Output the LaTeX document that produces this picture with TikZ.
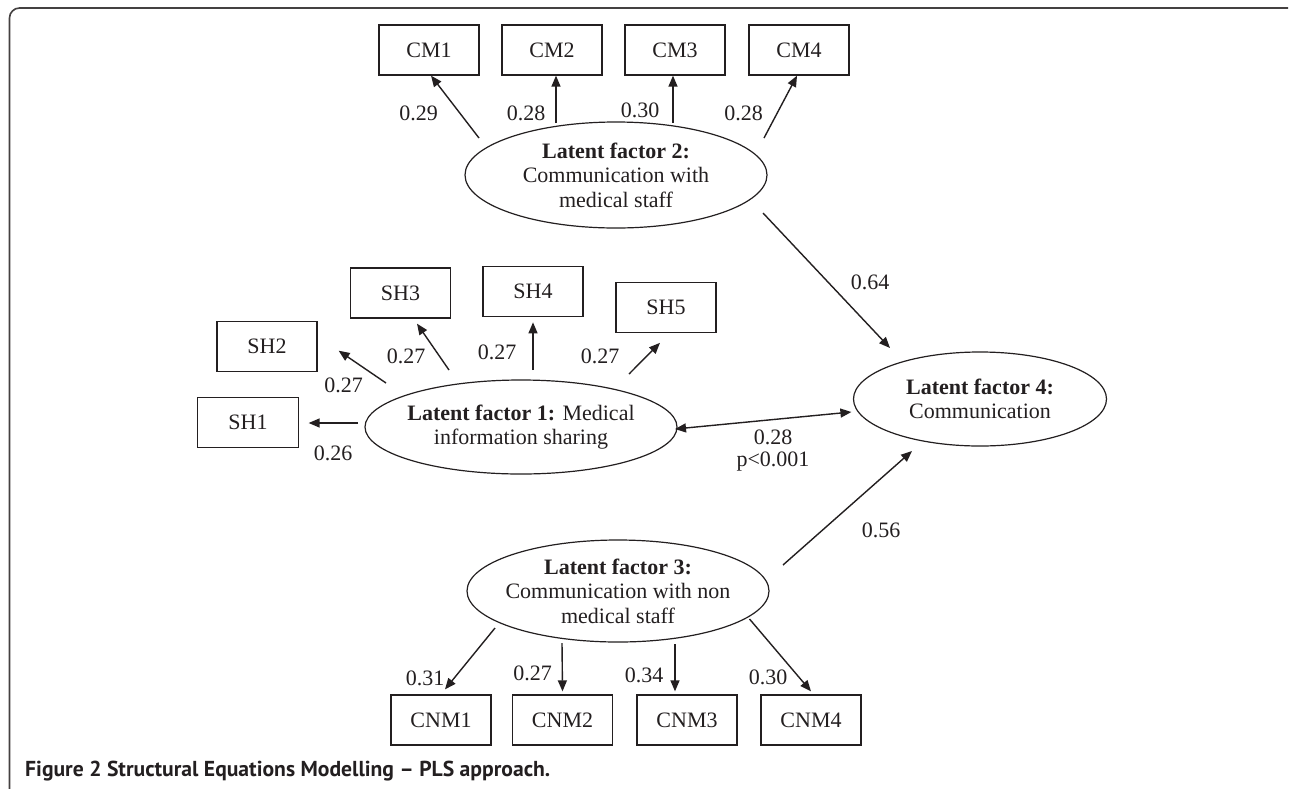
\documentclass[tikz,border=0pt]{standalone}
\usepackage{graphicx}
\usepackage{fontspec}
\setmainfont{Liberation Serif}
\newfontfamily\capfont{PT Sans}
\usetikzlibrary{shapes.geometric,arrows.meta,calc}
\definecolor{ink}{HTML}{231F20}
\begin{document}
\begin{tikzpicture}[x=1pt,y=-1pt,
  every node/.style={text=ink, font=\fontsize{22}{24.5}\selectfont},
  item/.style={draw=ink, line width=1.3pt, minimum width=100pt, minimum height=50pt, inner sep=0pt},
  factor/.style={draw=ink, line width=1.2pt, ellipse, inner xsep=-30pt, inner ysep=0pt, align=center},
  coef/.style={inner sep=0pt, align=center},
  arr/.style={draw=ink, line width=1.4pt, -{Triangle[length=11pt,width=9pt]}},
  darr/.style={draw=ink, line width=1.4pt, {Triangle[length=11pt,width=9pt]}-{Triangle[length=11pt,width=9pt]}},
]
\fill[white] (0,0) rectangle (1290,788);
\useasboundingbox (0,0) rectangle (1290,788);

% figure frame
\draw[draw=ink!85, line width=1.6pt, rounded corners=10pt] (9.5,790) -- (9.5,8) -- (1288,8);

% indicators of factor 2
\node[item] (cm1) at (429,50) {CM1};
\node[item] (cm2) at (552,50) {CM2};
\node[item] (cm3) at (675,50) {CM3};
\node[item] (cm4) at (799,50) {CM4};

% indicators of factor 1
\node[item, minimum width=101pt] (sh1) at (248,422.5) {SH1};
\node[item] (sh2) at (267,346.7) {SH2};
\node[item] (sh3) at (400.5,293) {SH3};
\node[item] (sh4) at (533,291.7) {SH4};
\node[item] (sh5) at (666,307.7) {SH5};

% indicators of factor 3
\node[item] (cnm1) at (441,720) {CNM1};
\node[item] (cnm2) at (562.5,720) {CNM2};
\node[item] (cnm3) at (687,720) {CNM3};
\node[item] (cnm4) at (811,720) {CNM4};

% latent factors
\node[factor, minimum width=302pt, minimum height=106pt] (lf2) at (616,175)
  {\textbf{Latent factor 2:}\\Communication with\\medical staff};
\node[factor, minimum width=312pt, minimum height=94pt] (lf1) at (521,427)
  {\textbf{Latent factor 1:} Medical\\information sharing};
\node[factor, minimum width=302pt, minimum height=102pt] (lf3) at (618,591)
  {\textbf{Latent factor 3:}\\Communication with non\\medical staff};
\node[factor, minimum width=253pt, minimum height=94pt] (lf4) at (980,399)
  {\textbf{Latent factor 4:}\\Communication};

% loadings of factor 2
\draw[arr] ($(lf2)+(-137,-37)$) -- ($(cm1.south)+(2,0)$);
\draw[arr] ($(lf2)+(-60,-52)$) -- ($(cm2.south)+(4,0)$);
\draw[arr] ($(lf2)+(57,-52)$) -- ($(cm3.south)+(-2,0)$);
\draw[arr] ($(lf2)+(148,-37)$) -- ($(cm4.south)+(-2,0)$);
\node[coef] (w21) at (418.6,113) {0.29};
\node[coef] (w22) at (526,113) {0.28};
\node[coef] (w23) at (640,110) {0.30};
\node[coef] (w24) at (743.6,113) {0.28};

% loadings of factor 1
\draw[arr] ($(lf1)+(-163,-4)$) -- ($(sh1.east)+(9.5,0.5)$);
\draw[arr] ($(lf1)+(-135,-44)$) -- ($(sh2.east)+(21,4)$);
\draw[arr] ($(lf1)+(-72,-57)$) -- ($(sh3.south)+(16.5,5)$);
\draw[arr] ($(lf1)+(12,-57)$) -- ($(sh4.south)+(0,5)$);
\draw[arr] ($(lf1)+(108,-53)$) -- ($(sh5.south)+(-6,9.5)$);
\node[coef] (w11) at (333,453) {0.26};
\node[coef] (w12) at (343.6,385) {0.27};
\node[coef] (w13) at (406,356.7) {0.27};
\node[coef] (w14) at (497,352.7) {0.27};
\node[coef] (w15) at (600,356) {0.27};

% loadings of factor 3
\draw[arr] ($(lf3)+(-123,37)$) -- ($(cnm1.north)+(4,-5)$);
\draw[arr] ($(lf3)+(-56,52)$) -- ($(cnm2.north)+(0,-3)$);
\draw[arr] ($(lf3)+(57,53)$) -- ($(cnm3.north)+(-12,-3)$);
\draw[arr] ($(lf3)+(131.5,28)$) -- ($(cnm4.north)+(0,-3)$);
\node[coef] (w31) at (425,678) {0.31};
\node[coef] (w32) at (532.5,673) {0.27};
\node[coef] (w33) at (644,675) {0.34};
\node[coef] (w34) at (768,677) {0.30};

% structural paths
\draw[arr] ($(lf2)+(147,38)$) -- ($(lf4)+(-90,-51)$);
\draw[darr] ($(lf1)+(154,2)$) -- ($(lf4.west)+(-1.5,13)$);
\draw[arr] ($(lf3)+(165,-26)$) -- ($(lf4)+(-68,52)$);
\node[coef] (p24) at (870,282) {0.64};
\node[coef, font=\fontsize{22}{22}\selectfont] (p14) at (773,451) {0.28\\p{<}0.001};
\node[coef] (p34) at (881,530) {0.56};

% caption
\node[anchor=base west, inner sep=0pt, font=\capfont\bfseries\fontsize{18}{20}\selectfont] (caption) at (25,776.7)
  {\resizebox{525pt}{!}{Figure 2 Structural Equations Modelling – PLS approach.}};
\end{tikzpicture}
\end{document}
